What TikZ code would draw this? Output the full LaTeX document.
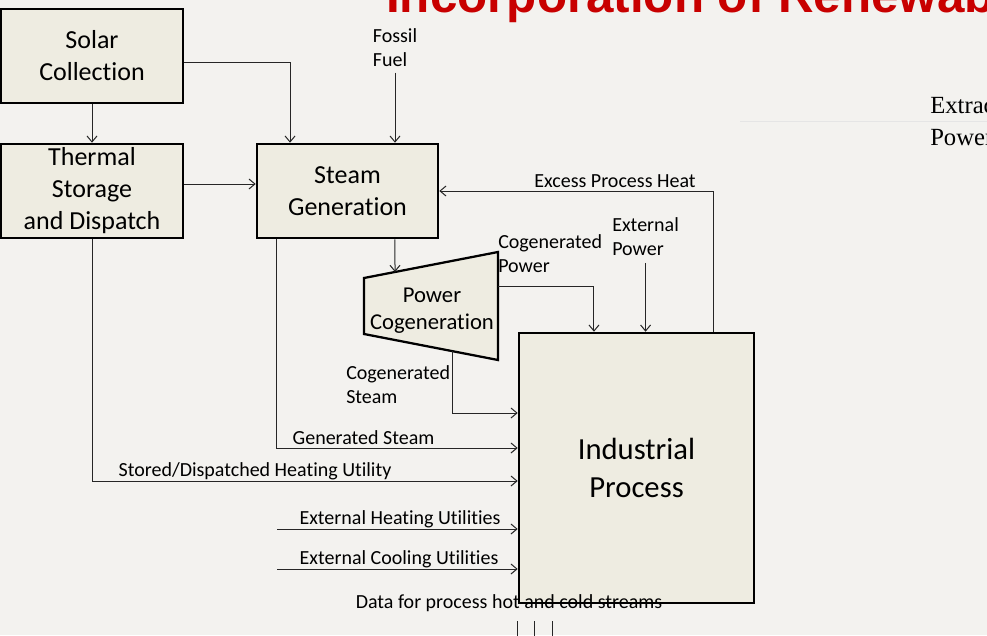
\documentclass[tikz,border=0pt]{standalone}
\usepackage{fontspec}
\setmainfont{Carlito}[Ligatures=NoCommon]
\newfontfamily\headfont{Liberation Sans}
\newfontfamily\sidefont{Liberation Serif}
\usepackage{tikz}
\usetikzlibrary{positioning, arrows.meta}
\definecolor{slidebg}{HTML}{F3F2EF}
\definecolor{boxfill}{HTML}{EEECE1}
\definecolor{headred}{HTML}{C80000}

\begin{document}
\begin{tikzpicture}[x=0.75pt, y=-0.75pt,
  block/.style={draw=black, line width=1.9pt, fill=boxfill, align=center, inner sep=0pt,
    minimum width=136.5pt, minimum height=70.5pt, font=\fontsize{19.5pt}{24pt}\selectfont},
  lbl/.style={inner sep=0pt, font=\fontsize{15pt}{18pt}\selectfont},
  flow/.style={draw=black!85, line width=0.75pt, -{Straight Barb[length=4.5pt,width=7.5pt]}},
  feed/.style={draw=black!85, line width=0.75pt}]
  \useasboundingbox (0,0) rectangle (987,635);
  \clip (0,0) rectangle (987,635);
  \fill[slidebg] (0,0) rectangle (987,635);
  \draw[black!10, line width=0.6pt] (740,121) -- (987,121);

  \node[anchor=base west, inner sep=0pt, text=headred, font=\headfont\bfseries\fontsize{37pt}{40pt}\selectfont] (title) at (386,13) {Incorporation of Renewab};
  \node[anchor=base west, inner sep=0pt, font=\sidefont\fontsize{18.5pt}{20pt}\selectfont] (extr) at (930,113) {Extrac};
  \node[anchor=base west, inner sep=0pt, font=\sidefont\fontsize{18.5pt}{20pt}\selectfont] (powr) at (930,145) {Power};

  \node[block] (solar) at (92,56) {Solar\\Collection};
  \node[block, below=28.85pt of solar] (thermal) {Thermal\\Storage\\and Dispatch};
  \node[block, minimum width=135.75pt, right=53.6pt of thermal] (steam) {Steam\\Generation};
  \node[block, minimum width=176.25pt, minimum height=202.5pt, font=\fontsize{23pt}{28.5pt}\selectfont] (plant) at (636.5,468) {Industrial\\Process};

  \draw[line width=1.7pt, fill=boxfill] (364,278) -- (498,252) -- (498,360) -- (364,334) -- cycle;
  \node[align=center, inner sep=0pt, font=\fontsize{17pt}{20.25pt}\selectfont] (cogen) at (432,311) {Power\\Cogeneration};
  \coordinate (cgin) at (395,272);
  \coordinate (cgpow) at (498,286);
  \coordinate (cgstm) at (452,351);
  \coordinate (extheat) at (277,529);
  \coordinate (extcool) at (277,569);

  \node[lbl, align=left] (fossil) at (395,48) {Fossil\\Fuel};
  \node[lbl] (excess) at (615,181) {Excess Process Heat};
  \node[lbl, align=left, anchor=west] (cgpowlbl) at (498,254) {Cogenerated\\Power};
  \node[lbl, align=left, anchor=west] (extpow) at (612,237) {External\\Power};
  \node[lbl, align=left, anchor=west] (cgstmlbl) at (346,385) {Cogenerated\\Steam};
  \node[lbl] (genlbl) at (363.5,438) {Generated Steam};
  \node[lbl] (storelbl) at (255,471) {Stored/Dispatched Heating Utility};
  \node[lbl] (heatlbl) at (400,519) {External Heating Utilities};
  \node[lbl] (coollbl) at (399,559) {External Cooling Utilities};
  \node[lbl] (datalbl) at (509,603) {Data for process hot and cold streams};

  \draw[flow] (solar) -- (thermal);
  \draw[flow] ([yshift=-5.25pt]solar.east) -| ([xshift=-43.1pt]steam.north);
  \draw[flow] ([yshift=-4pt]fossil.south) -- (fossil.south |- steam.north);
  \draw[flow] ([yshift=5.25pt]thermal.east) -- ([yshift=5.25pt]steam.west);
  \draw[flow] ([xshift=35.6pt]steam.south) -- (cgin);
  \draw[flow] (cgpow) -| ([xshift=-31.9pt]plant.north);
  \draw[flow] ([yshift=-5pt]extpow.south) -- (extpow.south |- plant.north);
  \draw[flow] ([xshift=58.1pt]plant.north) |- (steam.east);
  \draw[flow] (cgstm) |- ([yshift=41.25pt]plant.west);
  \draw[flow] ([xshift=-52.9pt]steam.south) |- ([yshift=15pt]plant.west);
  \draw[flow] (thermal.south) |- ([yshift=-9.75pt]plant.west);
  \draw[flow] (extheat) -- (extheat -| plant.west);
  \draw[flow] (extcool) -- (extcool -| plant.west);
  \foreach \sx/\nm in {517/hot, 534/mid, 552/cold} {
    \coordinate (\nm) at (\sx,621);
    \draw[feed] (\nm) -- ++(0,20);
  }
\end{tikzpicture}
\end{document}
